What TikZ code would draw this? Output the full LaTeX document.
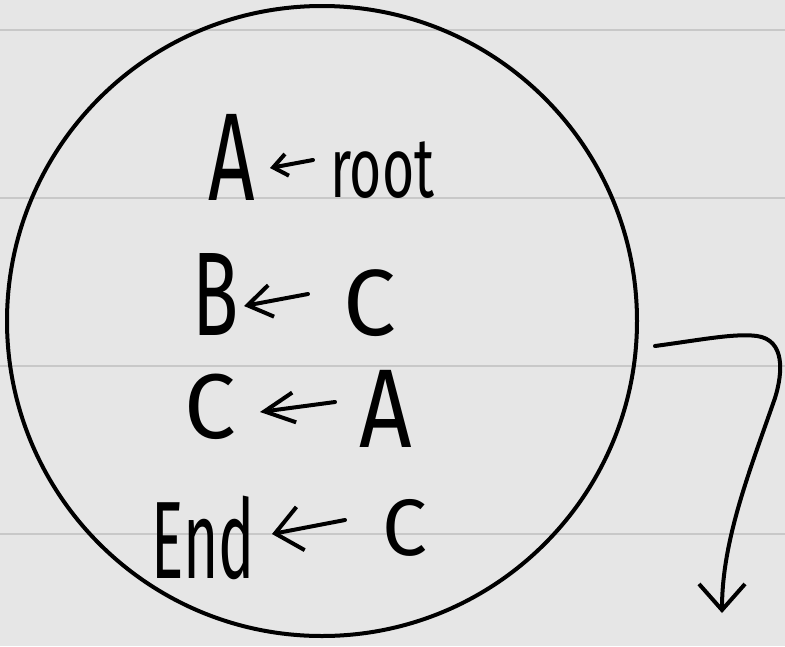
\documentclass[tikz,border=0pt]{standalone}
\usepackage{fontspec}
\setmainfont{Fira Sans}
\usetikzlibrary{arrows.meta}
\definecolor{paper}{HTML}{E6E6E6}
\definecolor{ruleclr}{HTML}{C8C8C8}
\tikzset{
  ink/.style={line width=4pt, line cap=round, line join=round, black},
  ruleline/.style={line width=2pt, ruleclr},
  glyph/.style={inner sep=0pt, anchor=base, black},
}
\begin{document}
\begin{tikzpicture}[x=1pt,y=-1pt]
\fill[paper] (0,0) rectangle (785,646);
\useasboundingbox (0,0) rectangle (785,646);
\foreach \yy in {30,198,366,534} \draw[ruleline] (0,\yy) -- (785,\yy);
\node[draw, circle, line width=4pt, minimum size=630pt, inner sep=0pt] (ring) at (322,321) {};
% line 1
\node[glyph, font=\fontsize{125}{125}\selectfont] (A1) at (232,200) {\scalebox{0.65}[1]{A}};
\node[glyph, anchor=base west, font=\fontsize{85}{85}\selectfont] (root) at (330,197) {\scalebox{0.65}[1]{root}};
% line 2
\node[glyph, font=\fontsize{119}{119}\selectfont] (B2) at (216,335) {\scalebox{0.64}[1]{B}};
\node[glyph, font=\fontsize{94}{94}\selectfont] (C2) at (370,335) {C};
% line 3
\node[glyph, font=\fontsize{92}{92}\selectfont] (C3) at (210,438) {C};
\node[glyph, font=\fontsize{112}{112}\selectfont] (A3) at (386,447) {\scalebox{0.82}[1]{A}};
% line 4
\node[glyph, font=\fontsize{110}{110}\selectfont] (End) at (203,578) {\scalebox{0.55}[1]{End}};
\node[glyph, font=\fontsize{80}{80}\selectfont] (C4) at (405,555) {C};
% small arrows
\coordinate (a1s) at (313,160); \coordinate (a1t) at (270,168);
\coordinate (a2s) at (308,294); \coordinate (a2t) at (244,306);
\coordinate (a3s) at (335,402); \coordinate (a3t) at (260,412);
\coordinate (a4s) at (345,520); \coordinate (a4t) at (272,534);
\draw[ink, -{Straight Barb[length=14pt,width=22pt]}] (a1s) -- (a1t);
\draw[ink, -{Straight Barb[length=24pt,width=32pt]}] (a2s) -- (a2t);
\draw[ink, -{Straight Barb[length=30pt,width=30pt]}] (a3s) -- (a3t);
\draw[ink, -{Straight Barb[length=26pt,width=44pt]}] (a4s) -- (a4t);
% outgoing connector
\coordinate (out) at (655,346);
\coordinate (down) at (722,613);
\draw[ink, -{Straight Barb[length=26pt,width=46pt]}] (out) .. controls (700,340) and (735,333) .. (757,336) .. controls (785,340) and (783,372) .. (775,398) .. controls (750,470) and (722,540) .. (down);
\end{tikzpicture}
\end{document}
